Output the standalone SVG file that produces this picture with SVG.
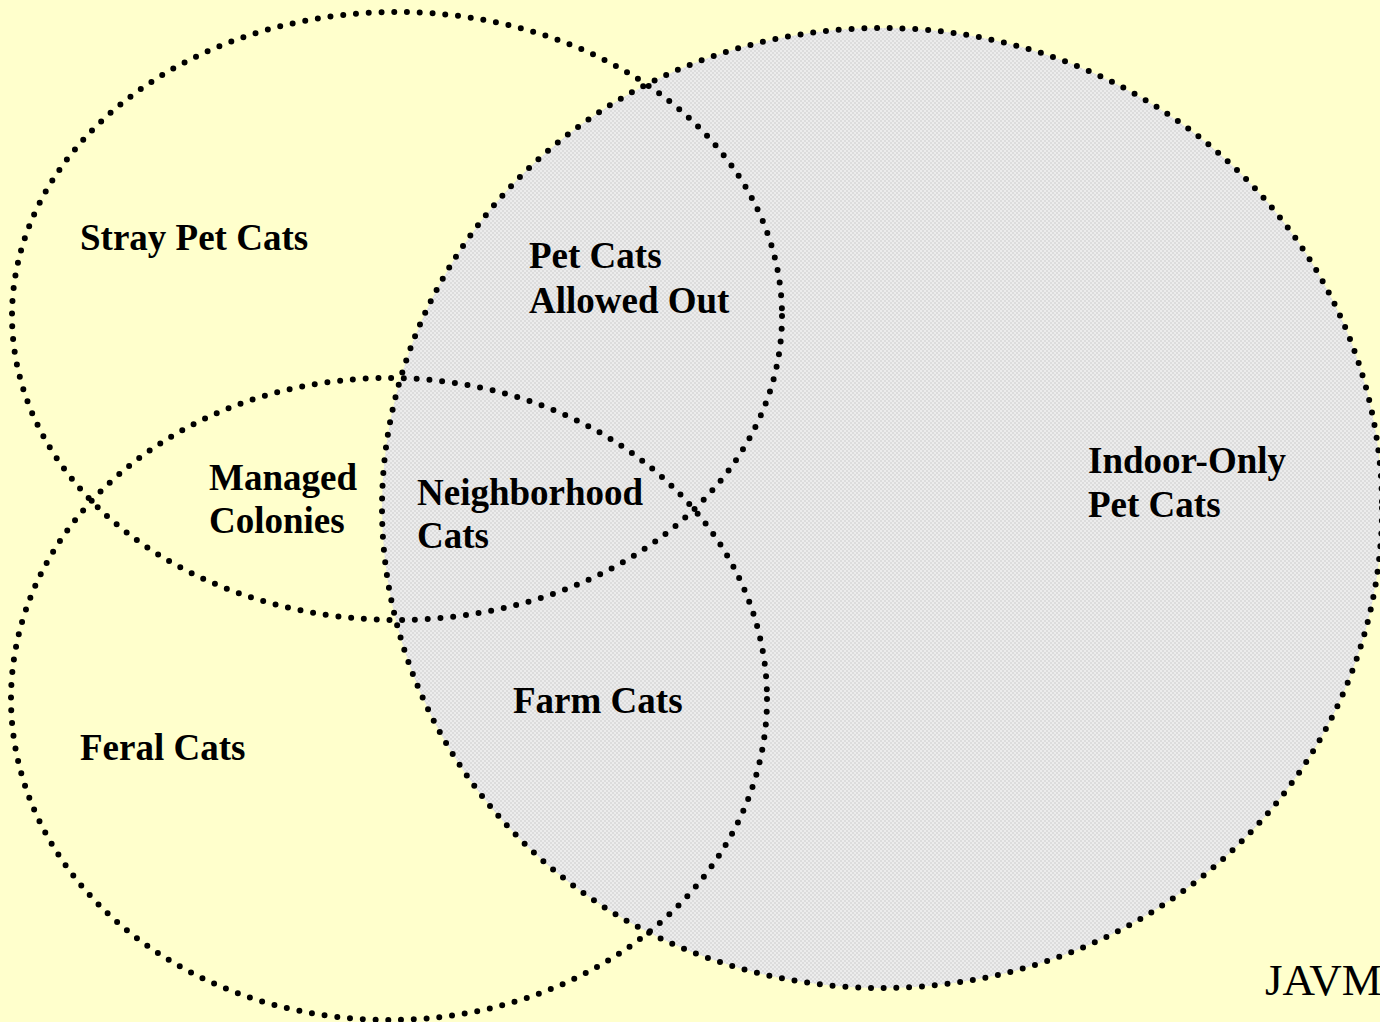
<svg xmlns="http://www.w3.org/2000/svg" width="1380" height="1022" viewBox="0 0 1380 1022">
<style>
.ring{fill:none;stroke:#000;stroke-width:6;stroke-linecap:round;stroke-dasharray:0 12.8}
.lbl{font-family:"Liberation Serif","Times New Roman",serif;font-weight:bold;font-size:37px;fill:#000}
.src{font-family:"Liberation Serif","Times New Roman",serif;font-size:45px;fill:#000}
</style>
<defs>
<pattern id="chk" width="4" height="4" patternUnits="userSpaceOnUse">
<rect width="4" height="4" fill="#ececec"/>
<rect width="2" height="2" fill="#dcdcdc"/>
<rect x="2" y="2" width="2" height="2" fill="#dcdcdc"/>
</pattern>
</defs>
<rect width="1380" height="1022" fill="#ffffcc"/>
<g id="indoor">
<ellipse cx="882" cy="508" rx="500" ry="480" fill="url(#chk)"/>
<ellipse class="ring" cx="882" cy="508" rx="500" ry="480"/>
</g>
<g id="stray">
<ellipse class="ring" cx="397" cy="316" rx="385" ry="304"/>
</g>
<g id="feral">
<ellipse class="ring" cx="389" cy="699" rx="378" ry="321"/>
</g>
<g id="labels">
<text class="lbl" x="80" y="250">Stray Pet Cats</text>
<text class="lbl" x="529" y="268">Pet Cats</text>
<text class="lbl" x="529" y="313">Allowed Out</text>
<text class="lbl" x="1088" y="473">Indoor-Only</text>
<text class="lbl" x="1088" y="517">Pet Cats</text>
<text class="lbl" x="209" y="490">Managed</text>
<text class="lbl" x="209" y="533">Colonies</text>
<text class="lbl" x="417" y="505">Neighborhood</text>
<text class="lbl" x="417" y="548">Cats</text>
<text class="lbl" x="513" y="713">Farm Cats</text>
<text class="lbl" x="80" y="760">Feral Cats</text>
<text class="src" x="1265" y="995">JAVM</text>
</g>
</svg>
